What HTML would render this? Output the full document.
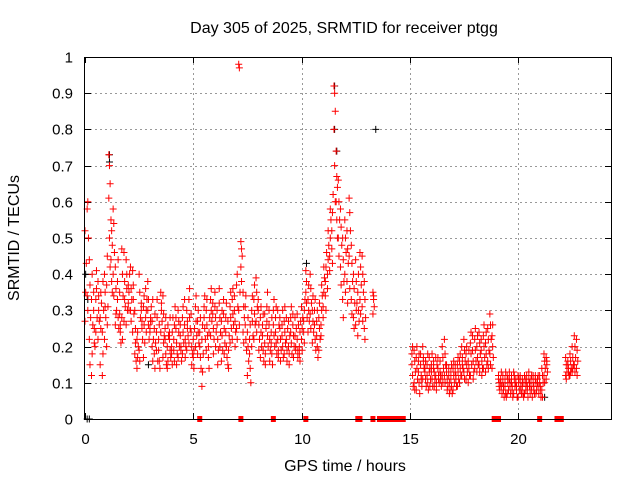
<!DOCTYPE html>
<html><head><meta charset="utf-8"><style>
html,body{margin:0;padding:0;background:#fff;}
svg{display:block;font-family:"Liberation Sans",sans-serif;}
</style></head><body>
<svg id="chart" width="640" height="480">
<rect width="640" height="480" fill="#fff"/>
<text x="344" y="33" font-size="16" text-anchor="middle">Day 305 of 2025, SRMTID for receiver ptgg</text>
<text x="0" y="0" font-size="16" text-anchor="middle" transform="translate(19,238) rotate(-90)">SRMTID / TECUs</text>
<text x="345" y="471" font-size="16" text-anchor="middle">GPS time / hours</text>
<g id="grid"></g><g id="ticks"></g><g id="marks"></g>
<rect x="84.5" y="57.5" width="527" height="362" fill="none" stroke="#000"/>
</svg>
<script>
const xTicks=[0,5,10,15,20];
const yTicks=[0,0.1,0.2,0.3,0.4,0.5,0.6,0.7,0.8,0.9,1];
const yTickLabels=["0","0.1","0.2","0.3","0.4","0.5","0.6","0.7","0.8","0.9","1"];
const times=[0.0,0.1,0.2,0.3,0.4,0.5,0.6,0.7,0.8,0.9,1.0,1.1,1.2,1.3,1.4,1.5,1.6,1.7,1.8,1.9,2.0,2.1,2.2,2.3,2.4,2.5,2.6,2.7,2.8,2.9,3.0,3.1,3.2,3.3,3.4,3.5,3.6,3.7,3.8,3.9,4.0,4.1,4.2,4.3,4.4,4.5,4.6,4.7,4.8,4.9,5.0,5.1,5.2,5.3,5.4,5.5,5.6,5.7,5.8,5.9,6.0,6.1,6.2,6.3,6.4,6.5,6.6,6.7,6.8,6.9,7.0,7.1,7.2,7.3,7.4,7.5,7.6,7.7,7.8,7.9,8.0,8.1,8.2,8.3,8.4,8.5,8.6,8.7,8.8,8.9,9.0,9.1,9.2,9.3,9.4,9.5,9.6,9.7,9.8,9.9,10.0,10.1,10.2,10.3,10.4,10.5,10.6,10.7,10.8,10.9,11.0,11.1,11.2,11.3,11.4,11.5,11.6,11.7,11.8,11.9,12.0,12.1,12.2,12.3,12.4,12.5,12.6,12.7,12.8,12.9,13.3,15.1,15.2,15.3,15.4,15.5,15.6,15.7,15.8,15.9,16.0,16.1,16.2,16.3,16.4,16.5,16.6,16.7,16.8,16.9,17.0,17.1,17.2,17.3,17.4,17.5,17.6,17.7,17.8,17.9,18.0,18.1,18.2,18.3,18.4,18.5,18.6,18.7,18.8,19.1,19.2,19.3,19.4,19.5,19.6,19.7,19.8,19.9,20.0,20.1,20.2,20.3,20.4,20.5,20.6,20.7,20.8,20.9,21.0,21.1,21.2,21.3,22.2,22.3,22.4,22.5,22.6,22.7];
const values=[
[.27,.35,.43,.52],[.58,.60,.50,.34,.30],[.44,.37,.28,.22,.15],[.12,.18,.26,.33,.40],[.30,.25,.20,.35,.21],[.33,.41,.28,.24,.36],[.38,.30,.27,.22,.34],[.28,.25,.32,.15,.35],[.12,.18,.30,.24,.38],[.40,.35,.28,.22,.31],
[.20,.26,.31,.37,.45],[.73,.70,.65,.61,.50,.42],[.55,.52,.48,.44,.38,.35],[.58,.54,.46,.40,.34],[.42,.36,.30,.26,.29],[.33,.28,.25,.38,.44],[.29,.24,.21,.35,.26],[.47,.40,.34,.28,.22],[.46,.38,.31,.27,.33],[.44,.36,.30,.26,.40],
[.37,.35,.40,.32,.30],[.30,.27,.33,.42,.36],[.41,.33,.29,.24,.37],[.30,.25,.16,.18,.21],[.14,.17,.20,.22,.24],[.40,.35,.28,.19,.16],[.32,.27,.22,.30,.25],[.31,.26,.21,.17,.34],[.28,.24,.33,.36,.30],[.30,.26,.22,.38,.33],
[.25,.28,.31,.24,.27],[.20,.16,.22,.27,.33],[.18,.14,.21,.25,.29],[.24,.28,.16,.19,.33],[.19,.16,.14,.22,.26],[.35,.32,.27,.24,.30],[.34,.29,.23,.17,.21],[.22,.18,.15,.25,.28],[.20,.16,.23,.14,.26],[.22,.19,.17,.24,.28],
[.20,.24,.28,.18,.15],[.22,.26,.31,.19,.16],[.25,.21,.18,.28,.15],[.30,.24,.20,.17,.27],[.23,.20,.16,.26,.19],[.28,.24,.21,.18,.31],[.26,.22,.20,.33,.17],[.30,.27,.23,.19,.25],[.33,.28,.25,.21,.36],[.24,.20,.18,.29,.15],
[.22,.19,.25,.17,.14],[.31,.27,.23,.20,.34],[.27,.24,.21,.18,.30],[.20,.17,.14,.24,.28],[.09,.13,.18,.22,.26],[.28,.25,.22,.31,.34],[.30,.26,.23,.19,.33],[.20,.24,.28,.17,.14],[.33,.30,.27,.23,.36],[.29,.25,.22,.32,.18],
[.31,.28,.24,.35,.20],[.26,.22,.19,.30,.15],[.32,.28,.24,.36,.20],[.27,.23,.19,.16,.30],[.29,.25,.21,.33,.18],[.24,.20,.17,.28,.32],[.15,.19,.23,.27,.14],[.31,.28,.25,.21,.35],[.33,.29,.26,.22,.36],[.30,.27,.24,.34,.20],
[.25,.22,.31,.37,.40],[.98,.97,.35,.30,.26],[.49,.47,.45,.42,.38],[.35,.31,.28,.24,.21],[.26,.22,.19,.31,.34],[.24,.20,.16,.12,.28],[.18,.14,.10,.22,.26],[.30,.27,.23,.20,.34],[.33,.29,.26,.22,.37],[.39,.35,.31,.27,.24],
[.30,.26,.22,.33,.19],[.28,.24,.20,.17,.31],[.23,.19,.16,.26,.29],[.21,.18,.25,.29,.15],[.27,.23,.20,.31,.35],[.26,.22,.19,.30,.16],[.21,.18,.15,.24,.28],[.26,.23,.20,.30,.33],[.24,.21,.18,.28,.31],[.22,.19,.26,.30,.17],
[.25,.22,.19,.28,.16],[.23,.20,.17,.26,.30],[.27,.24,.21,.18,.31],[.22,.19,.25,.28,.16],[.20,.18,.23,.27,.15],[.24,.21,.18,.28,.31],[.26,.23,.20,.29,.17],[.23,.20,.25,.28,.19],[.22,.19,.26,.29,.17],[.20,.24,.27,.18,.16],
[.22,.25,.28,.31,.19],[.27,.30,.33,.24,.21],[.35,.32,.28,.41,.38],[.33,.30,.27,.24,.37],[.40,.36,.32,.29,.25],[.30,.27,.24,.21,.34],[.26,.22,.19,.30,.33],[.23,.20,.17,.27,.30],[.28,.25,.22,.19,.32],[.26,.30,.34,.23,.37],
[.31,.35,.39,.28,.42],[.38,.42,.46,.34,.30],[.40,.44,.48,.36,.52],[.45,.50,.55,.41,.58],[.52,.57,.62,.47,.43],[.92,.90,.85,.80,.70,.60],[.74,.67,.64,.60,.55,.50],[.66,.60,.55,.50,.45],[.58,.53,.48,.42,.37],[.50,.44,.38,.33,.28],
[.55,.50,.46,.40,.35],[.52,.47,.43,.38,.32],[.61,.57,.52,.45,.36],[.48,.43,.38,.33,.29],[.40,.36,.32,.28,.25],[.44,.38,.32,.26,.30],[.35,.30,.27,.23,.40],[.46,.42,.37,.33,.29],[.45,.40,.35,.31,.27],[.38,.33,.28,.25,.22],
[.35,.33,.31,.29,.34],
[.15,.12,.09,.18,.20],[.19,.16,.13,.10,.08],[.17,.14,.11,.08,.20],[.13,.10,.07,.16,.18],[.15,.12,.09,.18,.11],[.20,.17,.14,.11,.16],[.14,.11,.09,.13,.16],[.12,.10,.08,.15,.18],[.17,.14,.11,.13,.09],
[.13,.11,.09,.15,.18],[.16,.13,.11,.14,.09],[.12,.10,.15,.17,.08],[.14,.12,.10,.17,.11],[.13,.11,.09,.16,.12],[.20,.17,.14,.12,.10],[.22,.18,.15,.12,.10],[.13,.11,.09,.15,.08],[.12,.10,.08,.14,.07],[.11,.09,.07,.13,.15],
[.14,.12,.10,.08,.16],[.13,.11,.09,.15,.12],[.15,.13,.11,.09,.17],[.16,.14,.12,.10,.18],[.20,.17,.14,.12,.15],[.22,.19,.16,.13,.11],[.18,.15,.13,.11,.20],[.16,.14,.12,.10,.19],[.21,.18,.15,.12,.24],[.19,.16,.13,.23,.11],
[.22,.19,.16,.14,.25],[.20,.17,.15,.13,.23],[.24,.21,.18,.15,.13],[.19,.16,.14,.22,.12],[.23,.20,.17,.14,.26],[.21,.18,.15,.13,.24],[.25,.22,.19,.16,.14],[.29,.26,.22,.18,.15],[.23,.20,.17,.14,.26],
[.12,.10,.08,.11,.09],[.11,.09,.07,.10,.13],[.10,.08,.06,.12,.09],[.09,.07,.06,.11,.13],[.12,.10,.08,.07,.11],[.11,.09,.07,.13,.10],[.10,.08,.06,.12,.09],[.13,.11,.09,.07,.12],[.10,.08,.06,.11,.09],
[.12,.10,.08,.06,.11],[.11,.09,.07,.12,.08],[.09,.07,.06,.11,.10],[.12,.10,.08,.07,.11],[.10,.08,.06,.12,.09],[.11,.09,.07,.13,.10],[.09,.08,.06,.11,.12],[.10,.08,.07,.12,.09],[.12,.10,.08,.11,.07],[.11,.09,.07,.10,.12],
[.10,.08,.06,.12,.09],[.14,.12,.10,.08,.06],[.18,.16,.14,.12,.10],[.17,.15,.13,.11,.16],
[.17,.15,.13,.12,.11],[.16,.14,.12,.15,.13],[.18,.16,.14,.12,.13],[.20,.17,.15,.13,.14],[.23,.20,.17,.15,.13],[.22,.19,.16,.14,.12]];
const blackTimes=[0.0,0.1,1.1,1.1,11.5,11.5,11.6,13.4,10.2,2.9,21.2];
const blackValues=[0.40,0.33,0.73,0.71,0.92,0.80,0.74,0.80,0.43,0.15,0.06];
const zeroTimes=[5.3,7.2,8.7,10.2,12.6,12.7,13.3,13.6,13.7,13.8,14.0,14.2,14.4,14.5,14.7,18.9,19.0,19.1,21.0,21.8,22.0];
const zeroBlackTimes=[0.1,0.2];

const NS="http://www.w3.org/2000/svg";
const X0=85,XS=21.65,Y0=419,YS=362;
function sx(t){return X0+t*XS;}
function sy(v){return Y0-v*YS;}
function mk(tag,attrs,parent){const e=document.createElementNS(NS,tag);for(const k in attrs)e.setAttribute(k,attrs[k]);parent.appendChild(e);return e;}
const grid=document.getElementById('grid'),ticks=document.getElementById('ticks'),marks=document.getElementById('marks');
yTicks.forEach((v,i)=>{
  const y=Math.round(sy(v))+0.5;
  if(i>0&&i<yTicks.length-1){const g=mk('line',{x1:85,x2:611,y1:y,y2:y,stroke:'#999','stroke-dasharray':'2,3'},grid);
  
  }
  mk('line',{x1:84,x2:91,y1:y,y2:y,stroke:'#000'},ticks);
  mk('line',{x1:605,x2:611,y1:y,y2:y,stroke:'#000'},ticks);
  const t=mk('text',{x:73,y:y+5,'font-size':15,'text-anchor':'end'},ticks);t.textContent=yTickLabels[i];
  
  
});
xTicks.forEach(v=>{
  const x=Math.round(sx(v))+0.5;
  if(v>0){const g=mk('line',{x1:x,x2:x,y1:58,y2:419,stroke:'#999','stroke-dasharray':'2,3'},grid);
  
  }
  mk('line',{x1:x,x2:x,y1:419,y2:413,stroke:'#000'},ticks);
  mk('line',{x1:x,x2:x,y1:57,y2:63,stroke:'#000'},ticks);
  const t=mk('text',{x:x,y:444,'font-size':15,'text-anchor':'middle'},ticks);t.textContent=String(v);
  
  
});
function plus(t,v,col,name){
  const x=sx(t),y=sy(v);
  const p=mk('path',{d:`M${x-3.5} ${y}H${x+3.5}M${x} ${y-3.5}V${y+3.5}`,stroke:col,'stroke-width':1,fill:'none'},marks);
  
  
}
blackTimes.forEach((t,i)=>plus(t+0.03,blackValues[i],'#000','black-point'));
times.forEach((t,i)=>values[i].forEach((v,j)=>plus(t+(j%3)*0.03,v,'#f00','srmtid-point')));
zeroBlackTimes.forEach(t=>plus(t,0,'#000','zero-point-black'));
zeroTimes.forEach(t=>{
  const r=mk('rect',{x:sx(t)-2.5,y:Y0-3,width:5,height:6,fill:'#f00'},marks);
  
  
});
</script>
</body></html>
